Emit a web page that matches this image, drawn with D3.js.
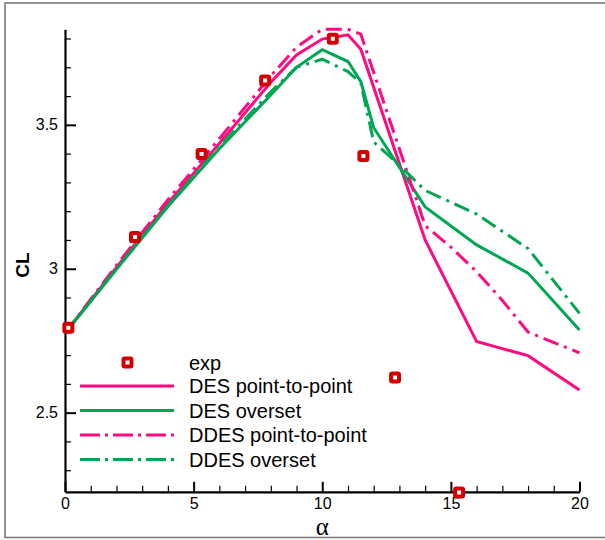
<!DOCTYPE html>
<html>
<head>
<meta charset="utf-8">
<script src="https://cdn.jsdelivr.net/npm/d3@7"></script>
<style>
  html, body { margin: 0; padding: 0; background: #fff; }
  svg { display: block; font-family: "Liberation Sans", Arial, sans-serif; }
</style>
</head>
<body>
<svg id="chart" width="605" height="540"></svg>
<script>
// Lift coefficient CL versus angle of attack alpha

// Experimental points
const expAlpha = [0.13, 2.72, 5.31, 7.78, 10.41, 11.6, 12.83, 15.32];
const expCL    = [2.795, 3.11, 3.399, 3.654, 3.799, 3.392, 2.622, 2.223];

// DES, point-to-point grid
const desP2pAlpha = [0, 2, 4, 6, 8, 9, 10, 11, 11.5, 14, 16, 18, 20];
const desP2pCL    = [2.776, 3.005, 3.228, 3.435, 3.648, 3.743, 3.798, 3.813, 3.763, 3.100, 2.747, 2.698, 2.579];

// DES, overset grid
const desOversetAlpha = [0, 2, 4, 6, 8, 9, 10, 11, 11.5, 12, 14, 16, 18, 20];
const desOversetCL    = [2.776, 2.998, 3.216, 3.417, 3.604, 3.700, 3.761, 3.720, 3.650, 3.490, 3.215, 3.083, 2.985, 2.787];

// DDES, point-to-point grid
const ddesP2pAlpha = [0, 2, 4, 6, 8, 9, 10, 11, 11.5, 14, 15, 16, 17, 18, 20];
const ddesP2pCL    = [2.776, 3.012, 3.240, 3.452, 3.670, 3.770, 3.832, 3.832, 3.815, 3.150, 3.075, 2.990, 2.890, 2.780, 2.708];

// DDES, overset grid
const ddesOversetAlpha = [0, 2, 4, 6, 8, 9, 10, 11, 11.5, 12, 13, 14, 16, 18, 20];
const ddesOversetCL    = [2.776, 3.000, 3.220, 3.425, 3.615, 3.700, 3.728, 3.685, 3.645, 3.440, 3.360, 3.272, 3.190, 3.070, 2.845];

// Axis ticks
const xMajorTicks = [0, 5, 10, 15, 20];
const xMinorTicks = [1, 2, 3, 4, 6, 7, 8, 9, 11, 12, 13, 14, 16, 17, 18, 19];
const yMajorTicks = [2.5, 3, 3.5];
const yMinorTicks = [2.3, 2.4, 2.6, 2.7, 2.8, 2.9, 3.1, 3.2, 3.3, 3.4, 3.6, 3.7, 3.8];

const legendLabels = ["exp", "DES point-to-point", "DES overset", "DDES point-to-point", "DDES overset"];

const PINK = "#ff0a80";
const GREEN = "#00a651";
const RED = "#d40000";
const DASHDOT = "16,6,3,6";

const svg = d3.select("#chart");

// outer frame
svg.append("rect")
  .attr("x", 5).attr("y", 3)
  .attr("width", 620).attr("height", 534.5)
  .attr("fill", "none")
  .attr("stroke", "#7a7a7a")
  .attr("stroke-width", 1.6);

const x = d3.scaleLinear().domain([0, 20]).range([65, 579.5]);
const y = d3.scaleLinear().domain([2.225, 3.832]).range([491.8, 29.3]);

// minor ticks (inward)
svg.append("g")
  .attr("transform", `translate(0,${y.range()[0]})`)
  .call(d3.axisBottom(x).tickValues(xMinorTicks).tickSize(-6).tickFormat(""))
  .call(g => g.select(".domain").remove())
  .call(g => g.selectAll("line").attr("stroke", "#000").attr("stroke-width", 1.2));

svg.append("g")
  .attr("transform", `translate(${x.range()[0]},0)`)
  .call(d3.axisLeft(y).tickValues(yMinorTicks).tickSize(-6).tickFormat(""))
  .call(g => g.select(".domain").remove())
  .call(g => g.selectAll("line").attr("stroke", "#000").attr("stroke-width", 1.2));

// major axes
const xAxis = svg.append("g")
  .attr("transform", `translate(0,${y.range()[0]})`)
  .call(d3.axisBottom(x).tickValues(xMajorTicks).tickSize(-10).tickSizeOuter(0).tickPadding(6).tickFormat(d3.format("d")));

const yAxis = svg.append("g")
  .attr("transform", `translate(${x.range()[0]},0)`)
  .call(d3.axisLeft(y).tickValues(yMajorTicks).tickSize(-11).tickSizeOuter(0).tickPadding(7).tickFormat(d => String(d)));

[xAxis, yAxis].forEach(g => {
  g.select(".domain").attr("stroke", "#000").attr("stroke-width", 2.2);
  g.selectAll(".tick line").attr("stroke", "#000").attr("stroke-width", 2);
  g.selectAll(".tick text")
    .attr("fill", "#000")
    .attr("font-size", 16)
    .attr("font-family", "'Liberation Sans', Arial, sans-serif");
});

// axis titles
svg.append("text")
  .attr("transform", "translate(29,265) rotate(-90)")
  .attr("text-anchor", "middle")
  .attr("font-size", 19)
  .attr("font-weight", "bold")
  .text("CL");

svg.append("text")
  .attr("x", x(10))
  .attr("y", 535)
  .attr("text-anchor", "middle")
  .attr("font-size", 25)
  .attr("font-family", "'Liberation Serif', 'DejaVu Serif', serif")
  .text("α");

// simulation curves
const series = [
  { a: desP2pAlpha, c: desP2pCL, color: PINK, dash: null },
  { a: desOversetAlpha, c: desOversetCL, color: GREEN, dash: null },
  { a: ddesP2pAlpha, c: ddesP2pCL, color: PINK, dash: DASHDOT },
  { a: ddesOversetAlpha, c: ddesOversetCL, color: GREEN, dash: DASHDOT }
];

const line = d3.line().x(d => x(d[0])).y(d => y(d[1]));

series.forEach(s => {
  svg.append("path")
    .datum(d3.zip(s.a, s.c))
    .attr("d", line)
    .attr("fill", "none")
    .attr("stroke", s.color)
    .attr("stroke-width", 3)
    .attr("stroke-linejoin", "miter")
    .attr("stroke-dasharray", s.dash);
});

// experimental markers: red square with a small white centre
function marker(sel) {
  sel.attr("width", 8).attr("height", 8)
    .attr("rx", 1.2)
    .attr("fill", "#fff")
    .attr("stroke", RED)
    .attr("stroke-width", 4);
}

svg.append("g")
  .selectAll("rect")
  .data(d3.zip(expAlpha, expCL))
  .join("rect")
  .attr("x", d => x(d[0]) - 4)
  .attr("y", d => y(d[1]) - 4)
  .call(marker);

// legend
const legend = svg.append("g");
const rowY = [362.5, 386, 410.5, 435, 459.5];

legend.append("rect")
  .attr("x", 127.5 - 4)
  .attr("y", rowY[0] - 4)
  .call(marker);

series.forEach((s, i) => {
  legend.append("line")
    .attr("x1", 80).attr("x2", 174)
    .attr("y1", rowY[i + 1]).attr("y2", rowY[i + 1])
    .attr("stroke", s.color)
    .attr("stroke-width", 3)
    .attr("stroke-dasharray", s.dash ? "20,5,3,5" : null);
});

legend.selectAll("text")
  .data(legendLabels)
  .join("text")
  .attr("x", 189)
  .attr("y", (d, i) => rowY[i] + 7)
  .attr("font-size", 20)
  .attr("fill", "#000")
  .text(d => d);
</script>
</body>
</html>
